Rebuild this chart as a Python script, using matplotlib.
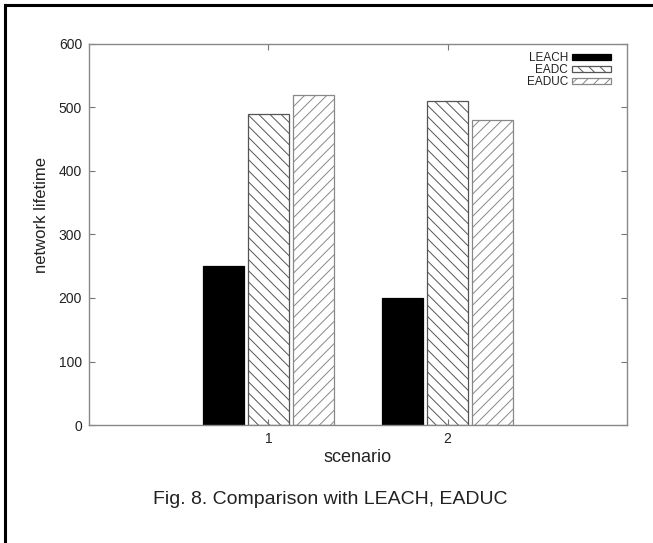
import numpy as np
import matplotlib
matplotlib.use('Agg')
import matplotlib.pyplot as plt
from matplotlib.lines import Line2D

plt.rcParams['font.family'] = ['Liberation Sans', 'DejaVu Sans']
plt.rcParams['hatch.linewidth'] = 0.7

scenarios = [1, 2]
series_names = ['LEACH', 'EADC', 'EADUC']
leach = [250, 200]
eadc = [490, 510]
eaduc = [520, 480]
y_ticks = [0, 100, 200, 300, 400, 500, 600]

fig = plt.figure(figsize=(6.53, 5.43), dpi=100)
ax = fig.add_axes([0.1363, 0.2173, 0.8239, 0.7017])

x = np.array(scenarios, dtype=float)
w = 0.23
styles = [
    dict(color='black', edgecolor='black', hatch=None),
    dict(color='white', edgecolor='#555555', hatch='\\' * 3),
    dict(color='white', edgecolor='#888888', hatch='/' * 3),
]
values = [leach, eadc, eaduc]
offsets = [-0.25, 0.0, 0.25]
for name, vals, off, st in zip(series_names, values, offsets, styles):
    ax.bar(x + off, vals, width=w, label=name, linewidth=0.9, **st)

ax.set_xlim(0, 3)
ax.set_ylim(0, 600)
ax.set_xticks(scenarios)
ax.set_yticks(y_ticks)
ax.tick_params(direction='in', length=4, width=0.8, color='#777777',
               labelsize=10, labelcolor='#222222', top=True, right=True,
               labeltop=False, labelright=False)
ax.tick_params(axis='y', pad=5)
ax.tick_params(axis='x', pad=5)
for sp in ax.spines.values():
    sp.set_color('#888888')
    sp.set_linewidth(1.0)

ax.set_xlabel('scenario', fontsize=13, color='#222222', labelpad=2)
ax.set_ylabel('network lifetime', fontsize=12, color='#222222')
ax.yaxis.set_label_coords(-0.075, 0.55)

# tight legend, labels left of the keys
leg = ax.legend(loc='upper right', markerfirst=False, frameon=False,
                fontsize=8.5, handlelength=3.3, handleheight=0.5,
                labelspacing=0.0, handletextpad=0.3,
                borderaxespad=0.3, bbox_to_anchor=(0.985, 1.0))
for t in leg.get_texts():
    t.set_color('#222222')

# outer frame of the figure (open on the right and bottom, as cropped)
fig.add_artist(Line2D([5 / 653, 5 / 653], [0, 1 - 5 / 543], color='black', lw=2.2))
fig.add_artist(Line2D([5 / 653, 1], [1 - 5 / 543, 1 - 5 / 543], color='black', lw=2.2))

fig.text(0.505, 1 - 500 / 543, 'Fig. 8. Comparison with LEACH, EADUC',
         ha='center', va='center', fontsize=14, color='#222222')

fig.savefig('out.png', dpi=100)
